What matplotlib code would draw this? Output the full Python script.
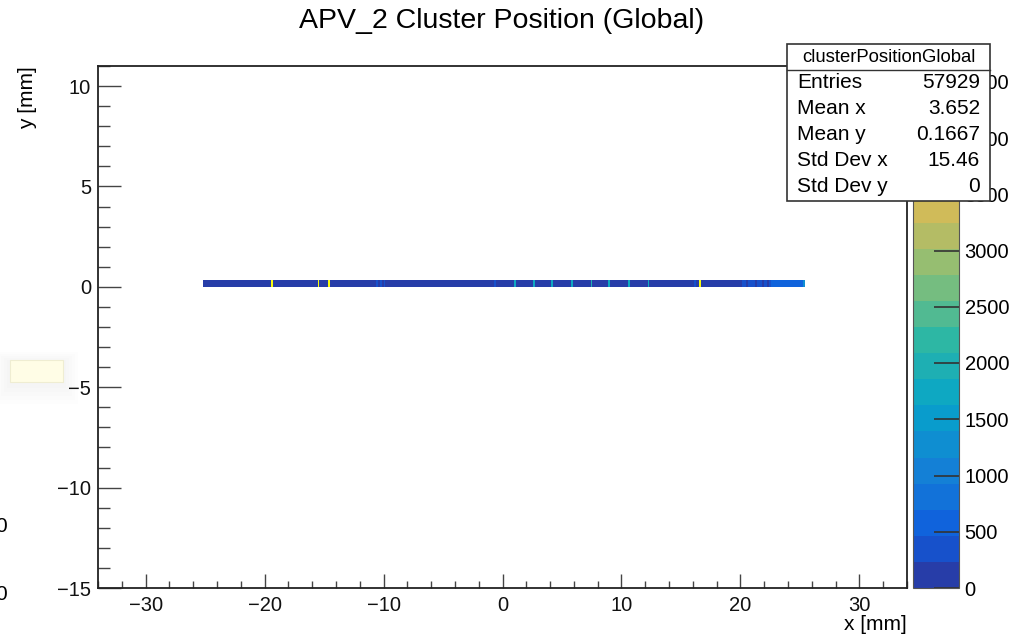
import numpy as np
import matplotlib.pyplot as plt
from matplotlib.colors import ListedColormap, BoundaryNorm, LinearSegmentedColormap
from matplotlib.ticker import MultipleLocator
from matplotlib.patches import Rectangle
from matplotlib.lines import Line2D

plt.rcParams['font.family'] = ['Liberation Sans', 'DejaVu Sans']

# cluster positions along the strip plane (single y bin)
bin_width = 0.15
x_range = [-25.15, 25.4]
y_bin = [0.0, 1.0 / 3.0]

# background count level per x segment [mm]
segment_edges = [-25.15, 20.1, 22.5, 25.25, 25.4]
segment_counts = [100, 280, 540, 1350]

# single hot / cold bins
spike_x = [-19.35, -15.45, -14.6, -10.6, -10.25, -9.9, -0.65, 0.95, 2.65, 4.2,
           5.75, 7.45, 9.0, 10.65, 12.2, 16.1, 16.65, 20.5, 21.2, 21.8, 22.25]
spike_counts = [4450, 4640, 4600, 380, 300, 380, 450, 1650, 1650, 1700,
                1650, 2050, 1650, 1700, 1650, 300, 4550, 150, 150, 150, 150]

stat_names = ['Entries', 'Mean x', 'Mean y', 'Std Dev x', 'Std Dev y']
stat_values = ['57929', '3.652', '0.1667', '15.46', '0']

x_edges = np.arange(x_range[0], x_range[1] + bin_width / 2, bin_width)
centers = 0.5 * (x_edges[:-1] + x_edges[1:])
counts = np.zeros(len(centers))
for lo, hi, c in zip(segment_edges[:-1], segment_edges[1:], segment_counts):
    counts[(centers >= lo) & (centers < hi)] = c
for x, c in zip(spike_x, spike_counts):
    counts[np.argmin(np.abs(centers - x))] = c

# ROOT kBird palette, 20 contour levels
stops = [0.0, 0.125, 0.25, 0.375, 0.5, 0.625, 0.75, 0.875, 1.0]
red = [0.2082, 0.0592, 0.0780, 0.0232, 0.1802, 0.5301, 0.8186, 0.9956, 0.9764]
green = [0.1664, 0.3599, 0.5041, 0.6419, 0.7178, 0.7492, 0.7328, 0.7862, 0.9832]
blue = [0.5293, 0.8684, 0.8385, 0.7914, 0.6425, 0.4662, 0.3499, 0.1968, 0.0539]
bird = LinearSegmentedColormap.from_list(
    'bird', [(s, (r, g, b)) for s, r, g, b in zip(stops, red, green, blue)])
ndiv = 20
cmap = ListedColormap([bird(min((i + 0.99) / ndiv, 1.0)) for i in range(ndiv)])
levels = np.linspace(0, counts.max(), ndiv + 1)
norm = BoundaryNorm(levels, ndiv)

W, H = 1017, 637
fig = plt.figure(figsize=(W / 100, H / 100), dpi=100)
ax = fig.add_axes([98 / W, 1 - 588 / H, 809 / W, 522 / H])
cax = fig.add_axes([913 / W, 1 - 588 / H, 46 / W, 522 / H])

mesh = ax.pcolormesh(x_edges, y_bin, np.ma.masked_equal(counts[None, :], 0),
                     cmap=cmap, norm=norm)
ax.set_xlim(-34, 34)
ax.set_ylim(-15, 11)

frame_col = '#222222'
for side in ['left', 'right', 'top', 'bottom']:
    ax.spines[side].set_color(frame_col)
    ax.spines[side].set_linewidth(1.3)

ax.xaxis.set_major_locator(MultipleLocator(10))
ax.xaxis.set_minor_locator(MultipleLocator(2))
ax.yaxis.set_major_locator(MultipleLocator(5))
ax.yaxis.set_minor_locator(MultipleLocator(1))
ax.tick_params(axis='both', which='both', direction='in', color='#444444',
               width=1.0, labelsize=14.5, labelcolor='#111111')
ax.tick_params(axis='x', which='major', length=10, pad=6)
ax.tick_params(axis='x', which='minor', length=5)
ax.tick_params(axis='y', which='major', length=16.5, pad=5)
ax.tick_params(axis='y', which='minor', length=8.6)

fig.text(907 / W, 1 - 625 / H, 'x [mm]', ha='right', va='center', fontsize=15)
fig.text(28 / W, 1 - 66 / H, 'y [mm]', ha='center', va='top', rotation=90,
         fontsize=15)
fig.text(502 / W, 1 - 21 / H, 'APV_2 Cluster Position (Global)', ha='center',
         va='center', fontsize=20.5)

cb = fig.colorbar(mesh, cax=cax, ticks=np.arange(0, 4501, 500))
cb.outline.set_linewidth(0.8)
cb.outline.set_edgecolor('#555555')
cax.tick_params(direction='in', length=18, width=1.2, color='#333333',
                labelsize=14.5, pad=4)
cax.minorticks_off()

# stats box, drawn over the upper colour-scale labels
bx0, by0, bx1, by1 = 787, 44, 990, 201
fig.patches.append(Rectangle((bx0 / W, 1 - by1 / H), (bx1 - bx0) / W, (by1 - by0) / H,
                             transform=fig.transFigure, facecolor='white',
                             edgecolor='#333333', linewidth=1.2, zorder=5))
fig.lines.append(Line2D([bx0 / W, bx1 / W], [1 - 70 / H, 1 - 70 / H],
                        transform=fig.transFigure, color='#333333',
                        linewidth=1.0, zorder=6))
fig.text((bx0 + bx1) / 2 / W, 1 - 57 / H, 'clusterPositionGlobal', ha='center',
         va='center', fontsize=13.3, zorder=7)
for i, (name, val) in enumerate(zip(stat_names, stat_values)):
    yy = 1 - (83 + 26 * i) / H
    fig.text(797 / W, yy, name, ha='left', va='center', fontsize=15, zorder=7)
    fig.text(980 / W, yy, val, ha='right', va='center', fontsize=15, zorder=7)

# stray tooltip and labels at the left edge
for k in range(5, 0, -1):
    fig.patches.append(Rectangle(((10 - 3 * k) / W, 1 - (384 + 4 * k) / H),
                                 (53 + 6 * k) / W, (22 + 6 * k) / H,
                                 transform=fig.transFigure, facecolor='#909090',
                                 edgecolor='none', alpha=0.012, zorder=3))
fig.patches.append(Rectangle((10 / W, 1 - 382 / H), 53 / W, 22 / H,
                             transform=fig.transFigure, facecolor='#fffde6',
                             edgecolor='#efedd2', linewidth=0.8, zorder=4))
fig.text(-5 / W, 1 - 526 / H, '0', ha='left', va='center', fontsize=15)
fig.text(-5 / W, 1 - 594 / H, '0', ha='left', va='center', fontsize=15)

fig.savefig('out.png', dpi=100)
